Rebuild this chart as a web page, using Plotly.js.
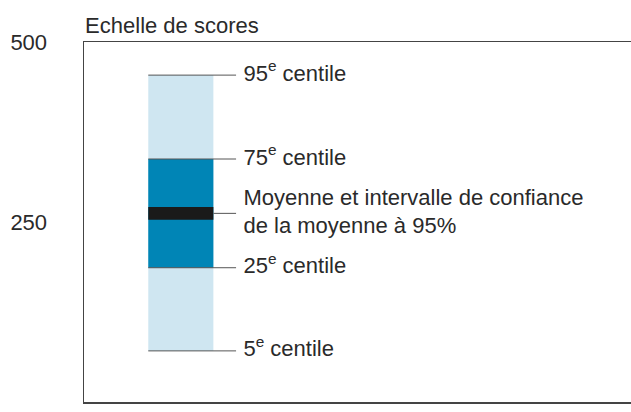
<!DOCTYPE html>
<html>
<head>
<meta charset="utf-8">
<script src="https://cdn.plot.ly/plotly-3.0.1.min.js"></script>
<style>
html,body{margin:0;padding:0;background:#fff;}
#chart{width:631px;height:412px;}
</style>
</head>
<body>
<div id="chart"></div>
<script>
// Data
var centileLabels = ["95<sup>e</sup> centile", "75<sup>e</sup> centile", "Moyenne et intervalle de confiance<br>de la moyenne à 95%", "25<sup>e</sup> centile", "5<sup>e</sup> centile"];
var p5 = 71, p25 = 186.5, p75 = 337.5, p95 = 454;
var meanLow = 253, meanHigh = 271, meanVal = 262;
var yTicks = [0, 250, 500];
var yTickText = ["0", "250", "500"];

// Layout positions (x in axis units, range 0-10)
var barX = 1.77, barW = 1.19;
var lineStart = barX - barW / 2, lineEnd = 2.78, meanLineStart = barX + barW / 2;
var labelX = 2.915;

var FONT = '"Liberation Sans", Arial, sans-serif';
var TXT = '#2a2a2a';
var FS = 22;

var traces = [
  {type: 'bar', x: [barX], y: [p95 - p5], base: [p5], width: [barW], marker: {color: '#cfe6f1', line: {width: 0}}, hoverinfo: 'skip'},
  {type: 'bar', x: [barX], y: [p75 - p25], base: [p25], width: [barW], marker: {color: '#0085b6', line: {width: 0}}, hoverinfo: 'skip'},
  {type: 'bar', x: [barX], y: [meanHigh - meanLow], base: [meanLow], width: [barW], marker: {color: '#1a1a1a', line: {width: 0}}, hoverinfo: 'skip'}
];
var levels = [p95, p75, meanVal, p25, p5];
levels.forEach(function (v, i) {
  var xs = (i === 2) ? meanLineStart : lineStart;
  traces.push({type: 'scatter', mode: 'lines', x: [xs, lineEnd], y: [v, v], line: {color: '#555555', width: 1}, hoverinfo: 'skip'});
});
traces.push({type: 'scatter', mode: 'text', x: levels.map(function(){return labelX;}), y: levels, text: centileLabels,
  textposition: 'middle right', textfont: {family: FONT, size: FS, color: TXT}, hoverinfo: 'skip'});

var layout = {
  width: 631, height: 412,
  margin: {l: 84, r: 0, t: 42, b: 10},
  paper_bgcolor: '#ffffff', plot_bgcolor: '#ffffff',
  showlegend: false, barmode: 'overlay',
  font: {family: FONT, size: FS, color: TXT},
  title: {text: 'Echelle de scores', x: 0.002, xref: 'paper', xanchor: 'left', y: 0.939, yref: 'container', yanchor: 'middle',
    font: {family: FONT, size: FS, color: TXT}},
  xaxis: {range: [0, 10], showgrid: false, zeroline: false, showticklabels: false, ticks: '',
    showline: true, mirror: true, linecolor: '#444444', linewidth: 1.5, fixedrange: true},
  yaxis: {range: [0, 500], showgrid: false, zeroline: false, tickvals: yTicks, ticktext: yTickText, ticks: '',
    ticklabelstandoff: 31, tickfont: {family: FONT, size: FS, color: TXT},
    showline: true, mirror: false, linecolor: '#444444', linewidth: 1.5, fixedrange: true}
};
Plotly.newPlot('chart', traces, layout, {displayModeBar: false, staticPlot: true});
</script>
</body>
</html>
